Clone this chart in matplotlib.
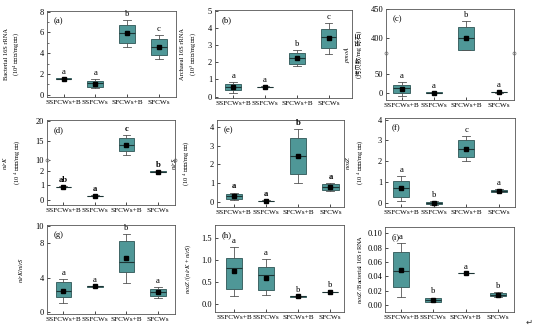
import numpy as np
import matplotlib.pyplot as plt
import matplotlib.transforms as mtransforms

plt.rcParams['font.family'] = ['Liberation Serif', 'Noto Sans CJK SC']
plt.rcParams['mathtext.fontset'] = 'stix'

groups = ['SSFCWs+B', 'SSFCWs', 'SFCWs+B', 'SFCWs']

# (a) Bacterial 16S rRNA
a_lo = [1.50, 0.64, 4.60, 3.49]
a_q1 = [1.52, 0.80, 5.02, 3.84]
a_med = [1.55, 1.10, 5.92, 4.60]
a_q3 = [1.58, 1.34, 6.72, 5.34]
a_hi = [1.60, 1.50, 7.20, 5.73]
a_mean = [1.55, 1.09, 5.90, 4.60]
a_sig = ['a', 'a', 'b', 'c']

# (b) Archaeal 16S rRNA
b_lo = [0.23, 0.55, 1.79, 2.46]
b_q1 = [0.38, 0.56, 1.91, 2.81]
b_med = [0.55, 0.57, 2.23, 3.44]
b_q3 = [0.74, 0.58, 2.52, 3.95]
b_hi = [0.84, 0.60, 2.71, 4.27]
b_mean = [0.55, 0.57, 2.23, 3.42]
b_sig = ['a', 'a', 'b', 'c']

# (c) pmoA
c_lo = [-6, 1, 379, 2]
c_q1 = [2, 1.5, 379, 3]
c_med = [13, 2, 399, 3.5]
c_q3 = [21.5, 2.5, 419, 4]
c_hi = [30, 3, 429, 5]
c_mean = [12, 2, 399, 3.5]
c_sig = ['a', 'a', 'b', 'a']

# (d) nirK
d_lo = [0.86, 0.27, 11.4, 1.90]
d_q1 = [0.88, 0.28, 12.3, 1.91]
d_med = [0.90, 0.29, 14.0, 1.93]
d_q3 = [0.92, 0.30, 15.7, 1.95]
d_hi = [0.94, 0.31, 16.5, 1.96]
d_mean = [0.90, 0.29, 14.0, 1.93]
d_sig = ['ab', 'a', 'c', 'b']

# (e) nirS
e_lo = [0.12, 0.03, 1.02, 0.60]
e_q1 = [0.18, 0.04, 1.47, 0.66]
e_med = [0.32, 0.05, 2.44, 0.80]
e_q3 = [0.44, 0.06, 3.38, 0.94]
e_hi = [0.50, 0.08, 3.86, 1.01]
e_mean = [0.32, 0.05, 2.44, 0.80]
e_sig = ['a', 'a', 'b', 'a']

# (f) nosZ
f_lo = [0.06, -0.11, 1.99, 0.50]
f_q1 = [0.27, -0.06, 2.20, 0.53]
f_med = [0.71, -0.02, 2.60, 0.58]
f_q3 = [1.03, 0.03, 3.04, 0.63]
f_hi = [1.29, 0.06, 3.21, 0.66]
f_mean = [0.69, -0.02, 2.60, 0.58]
f_sig = ['a', 'b', 'c', 'a']

# (g) nirK/nirS
g_lo = [1.08, 2.92, 3.38, 1.65]
g_q1 = [1.73, 2.95, 4.62, 1.92]
g_med = [2.42, 3.00, 5.77, 2.35]
g_q3 = [3.46, 3.05, 8.27, 2.73]
g_hi = [3.85, 3.08, 9.04, 2.92]
g_mean = [2.50, 3.00, 6.27, 2.31]
g_sig = ['a', 'a', 'b', 'a']

# (h) nosZ/(nirK+nirS)
h_lo = [0.17, 0.19, 0.16, 0.26]
h_q1 = [0.33, 0.31, 0.165, 0.265]
h_med = [0.82, 0.65, 0.17, 0.27]
h_q3 = [1.06, 0.85, 0.175, 0.275]
h_hi = [1.31, 1.02, 0.18, 0.28]
h_mean = [0.75, 0.60, 0.17, 0.27]
h_sig = ['a', 'a', 'b', 'b']

# (i) nosZ/Bacterial 16S rRNA
i_lo = [0.0117, 0.0038, 0.0443, 0.0113]
i_q1 = [0.0244, 0.0047, 0.0444, 0.0122]
i_med = [0.0479, 0.0075, 0.0446, 0.0141]
i_q3 = [0.0742, 0.0094, 0.0448, 0.0160]
i_hi = [0.0869, 0.0103, 0.0450, 0.0178]
i_mean = [0.0493, 0.0075, 0.0446, 0.0141]
i_sig = ['a', 'b', 'a', 'b']


def broken(lo_end, hi_start, k):
    # piecewise linear scale: lower part 1:1, gap collapsed, upper part squeezed by k
    def fwd(y):
        y = np.asarray(y, dtype=float)
        return np.where(y <= lo_end, y,
                        np.where(y >= hi_start, lo_end + (y - hi_start) * k, lo_end))

    def inv(z):
        z = np.asarray(z, dtype=float)
        return np.where(z <= lo_end, z, hi_start + (z - lo_end) / k)
    return fwd, inv


unit4 = '(10$^4$ 拷贝数/mg 砾石)'
panels = [
    dict(tag='(a)', rect=(47, 11, 176, 97), stats=(a_lo, a_q1, a_med, a_q3, a_hi, a_mean), sig=a_sig,
         ylabel='Bacterial 16S rRNA\n' + unit4, labx=-0.19, ylim=(-0.2, 8.05), yticks=[0, 2, 4, 6, 8],
         minor=1, xlim=(0.48, 4.54)),
    dict(tag='(b)', rect=(215, 10, 352, 98), stats=(b_lo, b_q1, b_med, b_q3, b_hi, b_mean), sig=b_sig,
         ylabel='Archaeal 16S rRNA\n(10$^3$ 拷贝数/mg 砾石)', labx=-0.12, ylim=(-0.08, 5.03),
         yticks=[0, 1, 2, 3, 4, 5], xlim=(0.42, 4.74)),
    dict(tag='(c)', rect=(386, 9, 514, 100), stats=(c_lo, c_q1, c_med, c_q3, c_hi, c_mean), sig=c_sig,
         ylabel='$\\mathit{pmoA}$\n(拷贝数/mg 砾石)', labx=-0.19, ylim=(-17, 450), yticks=[0, 50, 400, 450],
         brk=(105, 374, 1.5), xlim=(0.52, 4.47)),
    dict(tag='(d)', rect=(47, 120, 175, 205), stats=(d_lo, d_q1, d_med, d_q3, d_hi, d_mean), sig=d_sig, bold=True,
         ylabel='$\\mathit{nirK}$\n(10 $^4$ 拷贝数/mg 砾石)', labx=-0.19, ylim=(-0.34, 20.3),
         yticks=[0, 1, 2, 10, 15, 20], brk=(2.72, 10, 0.265), xlim=(0.48, 4.54)),
    dict(tag='(e)', rect=(217, 120, 344, 207), stats=(e_lo, e_q1, e_med, e_q3, e_hi, e_mean), sig=e_sig, bold=True,
         ylabel='$\\mathit{nirS}$\n(10 $^4$ 拷贝数/mg 砾石)', labx=-0.2, ylim=(-0.27, 4.36),
         yticks=[0, 1, 2, 3, 4], xlim=(0.48, 4.42)),
    dict(tag='(f)', rect=(385, 118, 515, 207), stats=(f_lo, f_q1, f_med, f_q3, f_hi, f_mean), sig=f_sig,
         ylabel='$\\mathit{nosZ}$\n(10 $^4$ 拷贝数/mg 砾石)', labx=-0.15, ylim=(-0.21, 4.08),
         yticks=[0, 1, 2, 3, 4], xlim=(0.5, 4.5)),
    dict(tag='(g)', rect=(47, 225, 175, 314), stats=(g_lo, g_q1, g_med, g_q3, g_hi, g_mean), sig=g_sig,
         ylabel='$\\mathit{nirK/nirS}$', labx=-0.17, ylim=(-0.2, 10.1), yticks=[0, 4, 8, 10],
         xlim=(0.48, 4.54)),
    dict(tag='(h)', rect=(215, 225, 344, 312), stats=(h_lo, h_q1, h_med, h_q3, h_hi, h_mean), sig=h_sig,
         ylabel='$\\mathit{nosZ}$ /($\\mathit{nirK}$ + $\\mathit{nirS}$)', labx=-0.17, ylim=(-0.19, 1.81),
         yticks=[0.0, 0.5, 1.0, 1.5], fmt='%.1f', xlim=(0.4, 4.45)),
    dict(tag='(i)', rect=(385, 227, 514, 312), stats=(i_lo, i_q1, i_med, i_q3, i_hi, i_mean), sig=i_sig,
         ylabel='$\\mathit{nosZ}$ /Bacterial 16S rRNA', labx=-0.16, ylim=(-0.010, 0.109),
         yticks=[0.0, 0.02, 0.04, 0.06, 0.08, 0.10], fmt='%.2f', xlim=(0.5, 4.5)),
]

W, H = 544, 334
fig = plt.figure(figsize=(W / 100, H / 100), dpi=100)

box_color = '#4f9797'
for p in panels:
    x0, y0, x1, y1 = p['rect']
    ax = fig.add_axes([x0 / W, 1 - y1 / H, (x1 - x0) / W, (y1 - y0) / H])
    if 'brk' in p:
        fwd, inv = broken(*p['brk'])
        ax.set_yscale('function', functions=(fwd, inv))
    lo, q1, med, q3, hi, mean = p['stats']
    bstats = []
    for k in range(len(groups)):
        bstats.append(dict(whislo=lo[k], q1=q1[k], med=med[k], q3=q3[k], whishi=hi[k],
                           mean=mean[k], fliers=[], label=groups[k]))
    ax.bxp(bstats, positions=range(1, 5), widths=0.5, patch_artist=True, showmeans=True,
           boxprops=dict(facecolor=box_color, edgecolor='#2e5555', linewidth=0.6),
           medianprops=dict(color='#1d3535', linewidth=0.8),
           whiskerprops=dict(color='#555555', linewidth=0.6),
           capprops=dict(color='#555555', linewidth=0.6), capwidths=0.25,
           meanprops=dict(marker='s', markersize=2.2, markerfacecolor='black', markeredgecolor='black'))
    for k in range(len(groups)):
        ax.annotate(p['sig'][k], (k + 1, hi[k]), xytext=(0, 1.5), textcoords='offset points',
                    ha='center', va='bottom', fontsize=6.2,
                    fontweight='bold' if p.get('bold') else 'normal')
    ax.set_xlim(*p['xlim'])
    ax.set_ylim(*p['ylim'])
    ax.set_yticks(p['yticks'])
    if 'fmt' in p:
        ax.set_yticklabels([p['fmt'] % v for v in p['yticks']])
    if 'minor' in p:
        ax.set_yticks(np.arange(1, p['ylim'][1], 2), minor=True)
    ax.set_xticks(range(1, 5))
    ax.set_xticklabels(groups)
    ax.tick_params(axis='both', direction='in', length=2, width=0.5, pad=2)
    ax.tick_params(axis='y', labelsize=6)
    ax.tick_params(axis='y', which='minor', direction='in', length=1.2, width=0.4)
    ax.tick_params(axis='x', labelsize=5.2, pad=2.5)
    for s in ax.spines.values():
        s.set_linewidth(0.6)
        s.set_color('#555555')
    ax.set_ylabel(p['ylabel'], fontsize=4.6, linespacing=1.5)
    ax.yaxis.set_label_coords(p['labx'], 0.5)
    ax.text(0.05, 0.93, p['tag'], transform=ax.transAxes, fontsize=6.2, va='top', ha='left')
    if 'brk' in p:
        tr = mtransforms.blended_transform_factory(ax.transAxes, ax.transData)
        yb = p['brk'][0]
        ax.plot([0, 1], [yb, yb], transform=tr, ls='none', marker='o', markersize=2.2,
                markerfacecolor='white', markeredgecolor='#777777', markeredgewidth=0.5, clip_on=False)

fig.text(526 / W, 1 - 322 / H, '↵', fontsize=6, family='DejaVu Sans', va='center', color='#333333')

fig.savefig('out.png', dpi=100)
